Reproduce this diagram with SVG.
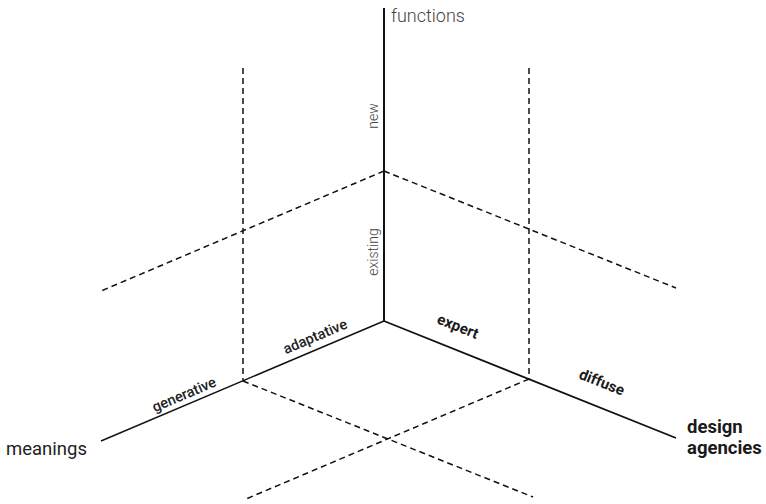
<svg xmlns="http://www.w3.org/2000/svg" width="766" height="504" viewBox="0 0 766 504">
<style>
.axis{stroke:#111;stroke-width:1.6;fill:none}
.dash{stroke:#111;stroke-width:1.5;fill:none;stroke-dasharray:6,4}
.lt{font-family:Roboto,"Liberation Sans",sans-serif;font-weight:300;fill:#444}
.md{font-family:Roboto,"Liberation Sans",sans-serif;font-weight:500;fill:#222}
.bd{font-family:Roboto,"Liberation Sans",sans-serif;font-weight:700;fill:#1a1a1a}
</style>
<rect width="766" height="504" fill="#fff"/>
<g id="connectors">
<line class="dash" x1="243" y1="68" x2="243" y2="381"/>
<line class="dash" x1="529" y1="68" x2="529" y2="379"/>
<line class="dash" x1="384" y1="171" x2="101" y2="291"/>
<line class="dash" x1="384" y1="171" x2="676" y2="288"/>
<line class="dash" x1="243" y1="381" x2="533" y2="497"/>
<line class="dash" x1="529" y1="379" x2="246" y2="499"/>
<line class="axis" x1="384" y1="8" x2="384" y2="321" style="stroke-width:2"/>
<line class="axis" x1="384" y1="321" x2="101" y2="441" style="stroke-width:1.4"/>
<line class="axis" x1="384" y1="321" x2="676" y2="438" style="stroke-width:1.8"/>
</g>
<g id="functions"><text class="lt" x="391" y="22" font-size="18">functions</text></g>
<g id="new"><text class="lt" font-size="14" text-anchor="middle" transform="translate(378,116) rotate(-90)">new</text></g>
<g id="existing"><text class="lt" font-size="14" text-anchor="middle" transform="translate(378,252) rotate(-90)">existing</text></g>
<g id="adaptative"><text class="md" font-size="14.5" text-anchor="middle" transform="translate(317,341) rotate(-23)">adaptative</text></g>
<g id="generative"><text class="md" font-size="14.5" text-anchor="middle" transform="translate(186,399) rotate(-23)">generative</text></g>
<g id="expert"><text class="bd" font-size="15" text-anchor="middle" transform="translate(456,331) rotate(21.8)">expert</text></g>
<g id="diffuse"><text class="bd" font-size="15" text-anchor="middle" transform="translate(600,387) rotate(21.8)">diffuse</text></g>
<g id="meanings"><text class="md" font-size="18.5" x="6" y="455" style="font-weight:400">meanings</text></g>
<g id="design-agencies"><text class="bd" font-size="18.5" x="687" y="433">design</text><text class="bd" font-size="18.5" x="687" y="454">agencies</text></g>
</svg>
